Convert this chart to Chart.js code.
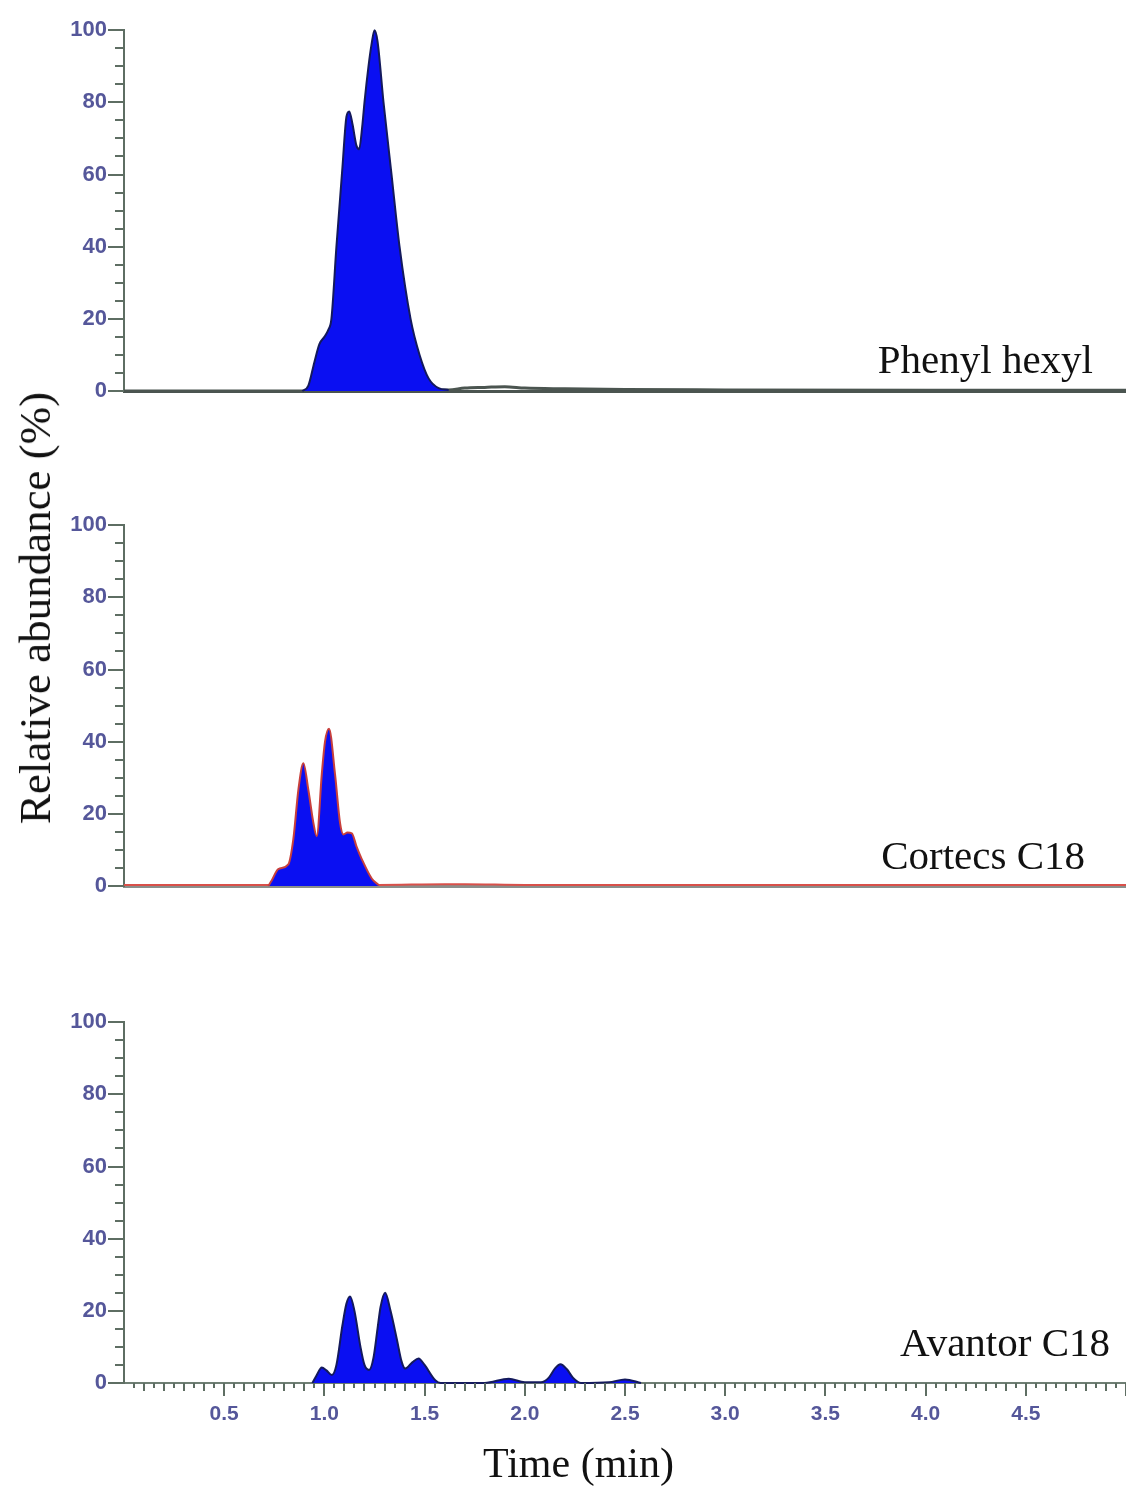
<!DOCTYPE html>
<html>
<head>
<meta charset="utf-8">
<script src="https://cdn.jsdelivr.net/npm/chart.js@4.4.0/dist/chart.umd.min.js"></script>
<style>
  body { margin: 0; background: #fff; }
  #wrap { position: relative; width: 1126px; height: 1488px; overflow: hidden; background: #fff; }
  canvas { position: absolute; left: 0; }
  .lbl { position: absolute; font-family: 'Liberation Serif', 'Times New Roman', serif; font-size: 41px; line-height: 41px; color: #111; white-space: nowrap; }
  #ytitle { position: absolute; left: 35px; top: 608px; font-family: 'Liberation Serif', serif; font-size: 45px; color: #111; white-space: nowrap; transform: translate(-50%, -50%) rotate(-90deg); }
</style>
</head>
<body>
<div id="wrap">
  <canvas id="c1" width="1126" height="440" style="top:0px"></canvas>
  <canvas id="c2" width="1126" height="440" style="top:495px"></canvas>
  <canvas id="c3" width="1126" height="496" style="top:992px"></canvas>
  <div class="lbl" style="right:33px; top:339px">Phenyl hexyl</div>
  <div class="lbl" style="right:41px; top:835px">Cortecs C18</div>
  <div class="lbl" style="right:16px; top:1322px">Avantor C18</div>
  <div class="lbl" style="left:483px; top:1443px; font-size:42px">Time (min)</div>
  <div id="ytitle">Relative abundance (%)</div>
</div>
<script>
// Phenyl hexyl
const phenylTime = [0.89, 0.92, 0.95, 0.975, 1.0, 1.02, 1.035, 1.06, 1.09, 1.11, 1.124, 1.14, 1.16, 1.173, 1.19, 1.20, 1.22, 1.235, 1.25, 1.265, 1.295, 1.335, 1.375, 1.43, 1.475, 1.52, 1.57, 1.62];
const phenylAbund = [0, 1.5, 8, 13, 15, 17, 20, 40, 62, 76, 77.5, 74, 68, 67, 74, 80, 90, 96, 100, 97, 80, 60, 40, 20, 10, 3.5, 0.8, 0.3];
const phenylBaseTime = [0, 0.89, 1.62, 1.7, 1.8, 1.9, 2.0, 2.2, 2.5, 3.0, 4.0, 5.0];
const phenylBaseAbund = [0, 0, 0.3, 0.8, 1, 1.2, 0.8, 0.6, 0.4, 0.3, 0.2, 0.2];

// Cortecs C18
const cortecsTime = [0.72, 0.737, 0.77, 0.82, 0.845, 0.87, 0.895, 0.92, 0.945, 0.962, 0.987, 1.003, 1.023, 1.053, 1.078, 1.095, 1.115, 1.137, 1.16, 1.187, 1.237, 1.27];
const cortecsAbund = [0, 1.5, 4.7, 6, 13, 26.6, 34, 26.6, 17.5, 13.8, 31, 40, 43.6, 31, 17.5, 14.3, 14.8, 14.6, 11, 7.4, 2, 0.3];
const cortecsBaseTime = [0, 0.72, 1.27, 1.6, 1.7, 2.0, 3.0, 4.0, 5.0];
const cortecsBaseAbund = [0.3, 0.3, 0.3, 0.5, 0.5, 0.3, 0.3, 0.3, 0.3];

// Avantor C18
const avantorTime = [0.94, 0.96, 0.987, 1.01, 1.037, 1.06, 1.09, 1.11, 1.128, 1.15, 1.18, 1.20, 1.223, 1.245, 1.265, 1.28, 1.303, 1.33, 1.362, 1.385, 1.403, 1.44, 1.47, 1.50, 1.553, 1.58,
                     1.80, 1.92, 2.0, 2.08, 2.12, 2.15, 2.178, 2.21, 2.24, 2.28, 2.42, 2.5, 2.58];
const avantorAbund = [0, 2, 4.3, 3.5, 2.2, 5, 16, 22, 24, 20, 10, 5, 3.6, 7, 15, 21, 25, 20, 12, 6, 4, 5.8, 6.8, 5, 0.8, 0,
                      0, 1.2, 0.2, 0.2, 1.5, 4, 5.2, 3.8, 1.5, 0, 0.2, 1, 0];

const xMin = 0, xMax = 5.0;
const yTickLabels = [0, 20, 40, 60, 80, 100];
const xTickLabels = [0.5, 1.0, 1.5, 2.0, 2.5, 3.0, 3.5, 4.0, 4.5];

const tickColor = '#5e6e63';
const labelColor = '#55579a';
const peakFill = '#0a0ff2';

function pts(xs, ys) {
    return xs.map((x, i) => ({ x: x, y: ys[i] }));
}

function near(v, list) {
    return list.some(t => Math.abs(v - t) < 1e-6);
}

// tick marks of different length, drawn from the scales
const tickMarks = {
    id: 'tickMarks',
    afterDraw(chart, args, opts) {
        const ctx = chart.ctx;
        const ys = chart.scales.y;
        ctx.save();
        ctx.strokeStyle = tickColor;
        ctx.lineWidth = 2;
        ys.ticks.forEach(t => {
            const py = Math.round(ys.getPixelForValue(t.value));
            const len = Math.abs(t.value % 20) < 1e-6 ? 16 : 9;
            ctx.beginPath();
            ctx.moveTo(ys.right - len, py);
            ctx.lineTo(ys.right, py);
            ctx.stroke();
        });
        if (opts.xTicks) {
            const xs = chart.scales.x;
            xs.ticks.forEach(t => {
                if (t.value <= 0) return;
                const px = Math.round(xs.getPixelForValue(t.value));
                const v = t.value;
                let len = 5;
                if (Math.abs(v * 2 - Math.round(v * 2)) < 1e-6) len = 13;
                else if (Math.abs(v * 10 - Math.round(v * 10)) < 1e-6) len = 8;
                ctx.beginPath();
                ctx.moveTo(px, xs.top);
                ctx.lineTo(px, xs.top + len);
                ctx.stroke();
            });
        }
        ctx.restore();
    }
};

function makePanel(id, canvasH, baseData, baseColor, baseWidth, peakData, peakBorder, xBorderColor, showX) {
    const ctx = document.getElementById(id).getContext('2d');
    return new Chart(ctx, {
        type: 'line',
        data: {
            datasets: [{
                data: peakData,
                borderColor: peakBorder,
                borderWidth: 2,
                backgroundColor: peakFill,
                fill: 'origin',
                cubicInterpolationMode: 'monotone',
                pointRadius: 0,
                clip: 6
            }, {
                data: baseData,
                borderColor: baseColor,
                borderWidth: baseWidth,
                fill: false,
                cubicInterpolationMode: 'monotone',
                pointRadius: 0,
                clip: 6
            }]
        },
        options: {
            responsive: false,
            animation: false,
            events: [],
            layout: { padding: { top: 28, right: 0, left: 0, bottom: 0 } },
            plugins: {
                legend: { display: false },
                tooltip: { enabled: false },
                tickMarks: { xTicks: showX }
            },
            scales: {
                x: {
                    type: 'linear',
                    min: xMin,
                    max: xMax,
                    afterFit: s => { s.height = canvasH - 28 - 363; },
                    // tick marks come from the plugin; tickLength only pushes the labels down
                    grid: { display: false, drawTicks: true, tickLength: 19 },
                    border: { display: true, color: xBorderColor, width: showX ? 2 : 3 },
                    ticks: {
                        display: showX,
                        stepSize: 0.05,
                        maxTicksLimit: 200,
                        autoSkip: false,
                        maxRotation: 0,
                        padding: 0,
                        color: labelColor,
                        font: { family: "'Liberation Sans', Arial, sans-serif", size: 21, weight: 'bold' },
                        callback: v => near(v, xTickLabels) ? v.toFixed(1) : ''
                    }
                },
                y: {
                    min: 0,
                    max: 100,
                    afterFit: s => { s.width = 124; },
                    grid: { display: false, drawTicks: false },
                    border: { display: true, color: tickColor, width: 2 },
                    ticks: {
                        stepSize: 5,
                        autoSkip: false,
                        padding: 17,
                        color: labelColor,
                        font: { family: "'Liberation Sans', Arial, sans-serif", size: 22, weight: 'bold' },
                        callback: v => near(v, yTickLabels) ? String(v) : ''
                    }
                }
            }
        },
        plugins: [tickMarks]
    });
}

makePanel('c1', 440, pts(phenylBaseTime, phenylBaseAbund), '#4b5550', 3,
          pts(phenylTime, phenylAbund), '#141a5c', '#4b5550', false);
makePanel('c2', 440, pts(cortecsBaseTime, cortecsBaseAbund), '#d9504a', 2,
          pts(cortecsTime, cortecsAbund), '#c8403c', '#8a8f8c', false);
makePanel('c3', 496, [], '#6f7f74', 2,
          pts(avantorTime, avantorAbund), '#141a5c', '#6f7f74', true);
</script>
</body>
</html>
